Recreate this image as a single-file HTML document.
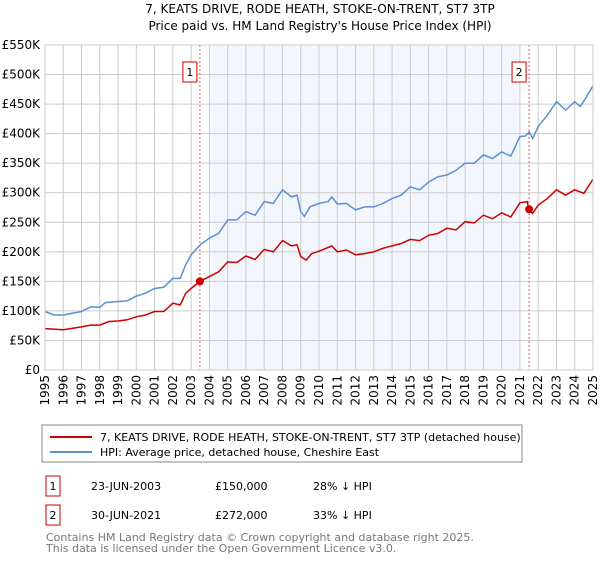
<!DOCTYPE html>
<html><head><meta charset="utf-8"><style>
body{margin:0;background:#fff;width:600px;height:560px;overflow:hidden;font-family:"DejaVu Sans","Liberation Sans",sans-serif;}
svg text{font-family:"DejaVu Sans","Liberation Sans",sans-serif;}
</style></head><body>
<svg id="chart" width="600" height="560">
<text x="320" y="13" font-size="12" text-anchor="middle">7, KEATS DRIVE, RODE HEATH, STOKE-ON-TRENT, ST7 3TP</text>
<text x="320" y="30" font-size="12" text-anchor="middle">Price paid vs. HM Land Registry's House Price Index (HPI)</text>
<g id="plot"></g>
<rect x="42" y="425" width="480" height="37" fill="#fff" stroke="#888"/>
<line x1="50" y1="437" x2="92" y2="437" stroke="#cc0000" stroke-width="2"/>
<text x="100" y="441" font-size="11">7, KEATS DRIVE, RODE HEATH, STOKE-ON-TRENT, ST7 3TP (detached house)</text>
<line x1="50" y1="452" x2="92" y2="452" stroke="#5b8fd4" stroke-width="2"/>
<text x="100" y="456" font-size="11">HPI: Average price, detached house, Cheshire East</text>
<g>
<rect x="46" y="476" width="14" height="20" fill="#fff" stroke="#cc0000"/>
<text x="53" y="490" font-size="11" text-anchor="middle">1</text>
<text x="91" y="490" font-size="11">23-JUN-2003</text>
<text x="215" y="490" font-size="11">£150,000</text>
<text x="313" y="490" font-size="11">28% ↓ HPI</text>
</g>
<g>
<rect x="46" y="505" width="14" height="20" fill="#fff" stroke="#cc0000"/>
<text x="53" y="519" font-size="11" text-anchor="middle">2</text>
<text x="91" y="519" font-size="11">30-JUN-2021</text>
<text x="215" y="519" font-size="11">£272,000</text>
<text x="313" y="519" font-size="11">33% ↓ HPI</text>
</g>
<text x="46" y="541" font-size="11" fill="#777">Contains HM Land Registry data © Crown copyright and database right 2025.</text>
<text x="46" y="552" font-size="11" fill="#777">This data is licensed under the Open Government Licence v3.0.</text>
</svg>
<script>
const yTicks=[0,50,100,150,200,250,300,350,400,450,500,550];
const yTickLabels=["£0","£50K","£100K","£150K","£200K","£250K","£300K","£350K","£400K","£450K","£500K","£550K"];
const xYears=[1995,1996,1997,1998,1999,2000,2001,2002,2003,2004,2005,2006,2007,2008,2009,2010,2011,2012,2013,2014,2015,2016,2017,2018,2019,2020,2021,2022,2023,2024,2025];
const hpiT=[1995,1995.5,1996,1997,1997.5,1998,1998.3,1999,1999.5,2000,2000.5,2001,2001.5,2002,2002.4,2002.7,2003,2003.5,2004,2004.5,2005,2005.5,2006,2006.5,2007,2007.5,2008,2008.5,2008.8,2009,2009.2,2009.5,2010,2010.5,2010.7,2011,2011.5,2012,2012.5,2013,2013.5,2014,2014.5,2015,2015.5,2016,2016.5,2017,2017.5,2018,2018.5,2019,2019.5,2020,2020.5,2021,2021.3,2021.5,2021.7,2022,2022.5,2023,2023.5,2024,2024.3,2024.6,2025];
const hpiV=[99,93,93,99,107,106,114,116,117,125,130,138,140,155,155,178,195,212,223,231,254,254,268,262,285,282,305,293,296,268,260,276,282,285,293,281,282,271,276,276,282,290,296,310,305,318,327,330,338,350,350,364,358,369,362,395,396,403,392,412,431,454,440,454,446,460,481];
const ppT=[1995,1996,1997,1997.5,1998,1998.5,1999,1999.5,2000,2000.5,2001,2001.5,2002,2002.4,2002.7,2003,2003.48,2004,2004.5,2005,2005.5,2006,2006.5,2007,2007.5,2008,2008.5,2008.8,2009,2009.3,2009.6,2010,2010.7,2011,2011.5,2012,2012.5,2013,2013.5,2014,2014.5,2015,2015.5,2016,2016.5,2017,2017.5,2018,2018.5,2019,2019.5,2020,2020.5,2021,2021.4,2021.5,2021.7,2022,2022.5,2023,2023.5,2024,2024.5,2025];
const ppV=[70,68,73,76,76,82,83,85,90,93,99,99,113,110,130,138,150,158,166,183,182,193,187,204,200,219,210,212,192,186,197,201,210,200,203,195,197,200,206,210,214,221,219,228,231,240,237,251,249,262,256,266,259,283,285,271,265,279,290,305,296,305,299,323];
const saleT=[2003.48,2021.5];
const saleV=[150,272];
const saleLabels=["1","2"];
const shadeRange=[2004,2021];

const L=45,R=593,T=45,B=370;
const x=t=>L+(t-1995)/(2025-1995)*(R-L);
const y=v=>B-v/550*(B-T);
const NS="http://www.w3.org/2000/svg";
const g=document.getElementById('plot');
function mk(tag,attrs){const e=document.createElementNS(NS,tag);for(const k in attrs)e.setAttribute(k,attrs[k]);g.appendChild(e);return e;}
let e=mk('rect',{x:x(shadeRange[0]),y:T,width:x(shadeRange[1])-x(shadeRange[0]),height:B-T,fill:'#eef3fc',opacity:0.7});


yTicks.forEach((v,i)=>{
 let l=mk('line',{x1:L,x2:R,y1:y(v),y2:y(v),stroke:'#ccc'});
 
 
 let t=mk('text',{x:L-5,y:y(v)+4,'font-size':12,'text-anchor':'end'});t.textContent=yTickLabels[i];
 
 
});
xYears.forEach(yr=>{
 let l=mk('line',{x1:x(yr),x2:x(yr),y1:T,y2:B,stroke:'#ccc'});
 
 
 let t=mk('text',{x:0,y:0,'font-size':12,'text-anchor':'end',transform:`translate(${x(yr)+4},${B+5}) rotate(-90)`});t.textContent=yr;
 
 
});
saleT.forEach((t,i)=>{
 let l=mk('line',{x1:x(t),x2:x(t),y1:T,y2:B,stroke:'#e06060','stroke-dasharray':'2,2'});
 
 
 let r=mk('rect',{x:x(t)-17,y:62,width:14,height:20,fill:'#fff',stroke:'#cc0000'});
 
 
 let tx=mk('text',{x:x(t)-10,y:76,'font-size':11,'text-anchor':'middle'});tx.textContent=saleLabels[i];
 
 
});
const path=(ts,vs)=>ts.map((t,i)=>(i?'L':'M')+x(t).toFixed(1)+','+y(vs[i]).toFixed(1)).join('');
let hp=mk('path',{d:path(hpiT,hpiV),fill:'none',stroke:'#5b8fd4','stroke-width':1.5});


let pp=mk('path',{d:path(ppT,ppV),fill:'none',stroke:'#cc0000','stroke-width':1.5});


saleT.forEach((t,i)=>{
 let c=mk('circle',{cx:x(t),cy:y(saleV[i]),r:4,fill:'#cc0000'});
 
 
});
let ax=mk('rect',{x:L,y:T,width:R-L,height:B-T,fill:'none',stroke:'#ccc'});


</script>
</body></html>
